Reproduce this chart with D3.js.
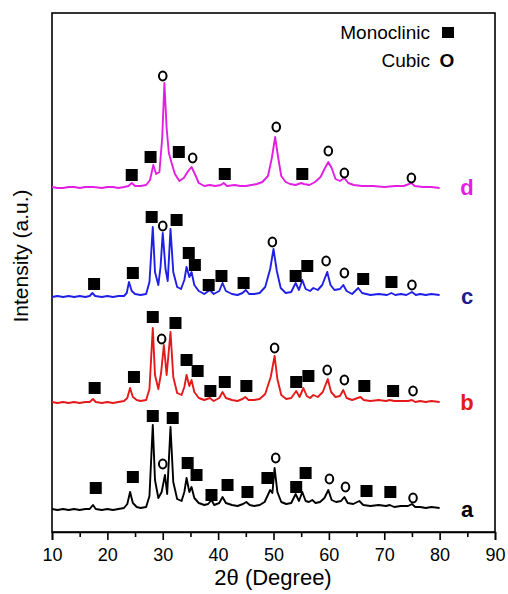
<!DOCTYPE html>
<html>
<head>
<meta charset="utf-8">
<script src="https://cdn.jsdelivr.net/npm/d3@7"></script>
<style>
  body { margin: 0; background: #fff; }
  text { font-family: Arial, "Liberation Sans", sans-serif; }
</style>
</head>
<body>
<div id="chart"></div>
<script>
var width = 508;
var height = 594;

// XRD patterns, [2theta, intensity above own baseline]
var curveA = [[10,1],[11,0],[12,1],[13,0],[14,1],[15,0],[16,1],[16.8,1],[17.4,5],[17.9,1],[19,0],[20,1],[21,0],[22,1],[23,2],[23.6,6],[24.1,18],[24.6,7],[25.3,3],[26,2],[27,3],[27.6,14],[28.2,85],[28.6,30],[29.2,12],[29.8,18],[30.4,35],[30.8,16],[31.4,83],[31.9,28],[32.6,11],[33.4,9],[33.9,18],[34.3,32],[34.8,18],[35.2,23],[35.7,12],[36.5,7],[37.5,5],[38.2,6],[38.8,10],[39.3,5],[40.2,7],[40.8,13],[41.4,7],[42.5,5],[43.5,4],[44.5,6],[45.1,8],[45.7,5],[46.5,4],[47.5,5],[48.4,8],[49.4,20],[49.8,17],[50.2,42],[50.7,18],[51.4,8],[52.3,6],[53.2,7],[54,16],[54.6,9],[55.2,18],[55.8,9],[56.4,8],[57,10],[57.6,7],[58.4,8],[59.2,12],[59.9,20],[60.5,10],[61.3,8],[62.2,9],[62.8,13],[63.4,7],[64.4,6],[65.5,9],[66.2,5],[67.5,4],[69,5],[70.3,4],[71,5],[71.8,3],[73,4],[74.3,4],[75,6],[75.6,3],[76.5,3],[77.5,2],[78.5,3],[80,2]];
var curveB = [[10,1],[11,0],[12,1],[13,0],[14,1],[15,0],[16,1],[16.8,1],[17.4,4],[17.9,1],[19,0],[20,1],[21,0],[22,1],[23,2],[23.6,5],[24.1,15],[24.6,6],[25.3,3],[26,2],[27,3],[27.6,14],[28.2,75],[28.6,28],[29.2,14],[29.7,30],[30.2,58],[30.7,28],[31.4,71],[31.9,26],[32.6,10],[33.4,8],[33.9,16],[34.3,28],[34.8,17],[35.2,23],[35.7,11],[36.5,5],[37.5,3],[38.5,5],[39.2,2],[40.2,5],[40.8,11],[41.4,5],[42.5,3],[43.5,2],[44.4,4],[44.9,6],[45.5,3],[46.5,3],[47.5,4],[48.5,9],[49.5,26],[50.2,47],[50.7,24],[51.4,8],[52.3,4],[53.2,5],[54.1,12],[54.7,6],[55.4,15],[56,7],[56.6,5],[57.2,8],[58,6],[58.9,11],[59.8,24],[60.4,11],[61.2,6],[62,7],[62.6,13],[63.2,5],[64.2,3],[65.7,6],[66.3,3],[67.5,2],[69,3],[70.3,2],[71,3],[71.8,2],[73,2],[74.3,2],[75,3],[75.6,1],[76.5,2],[77.5,1],[78.5,2],[80,1]];
var curveC = [[10,0],[11,1],[12,0],[13,1],[14,0],[15,1],[16,0],[16.8,1],[17.3,4],[17.8,1],[19,0],[20,1],[21,0],[22,1],[23,1],[23.5,4],[23.9,15],[24.4,6],[25,3],[26,2],[27,3],[27.6,15],[28.2,70],[28.6,25],[29.2,12],[29.6,30],[30,64],[30.5,28],[30.9,16],[31.4,68],[31.9,25],[32.6,10],[33.3,8],[33.9,17],[34.3,30],[34.8,20],[35.2,25],[35.7,12],[36.5,6],[37.5,3],[38.5,7],[39.2,3],[40.2,6],[40.8,14],[41.4,6],[42.5,3],[43.5,2],[44.4,4],[45,7],[45.6,3],[46.5,3],[47.5,4],[48.5,10],[49.4,28],[50,48],[50.6,26],[51.3,9],[52.2,4],[53.2,5],[54,14],[54.6,7],[55.2,17],[55.8,8],[56.6,6],[57.2,9],[58,7],[58.8,12],[59.7,25],[60.3,12],[61,7],[62,8],[62.6,12],[63.2,6],[64.2,3],[65.3,9],[66,4],[67.5,2],[69,3],[70.5,2],[71.3,4],[72,2],[73,3],[74,2],[75,5],[75.7,2],[76.5,3],[77.5,2],[78.5,3],[80,2]];
var curveD = [[10,1],[11,0],[12,0],[13,1],[14,1],[15,0],[16,1],[17.5,1],[19,0],[20,1],[21,1],[22,0],[23,1],[23.8,2],[24.4,5],[25,2],[26,2],[27,3],[27.7,8],[28.3,23],[28.8,14],[29.4,16],[29.9,50],[30.3,105],[30.7,60],[31.1,35],[31.6,25],[32.2,14],[33,7],[33.8,10],[34.6,17],[35.2,21],[35.8,14],[36.5,5],[37.5,2],[38.5,3],[39.5,2],[40.5,3],[41,5],[41.6,2],[43,3],[44,2],[45,2],[46,3],[47,4],[48,6],[49,12],[49.7,30],[50.3,51],[50.8,32],[51.4,12],[52.2,6],[53,4],[54,3],[55,5],[55.5,4],[56.5,3],[57.5,6],[58.5,11],[59.3,20],[59.9,26],[60.5,20],[61.2,9],[62,7],[62.8,10],[63.5,5],[64.5,3],[66,2],[68,2],[70,1],[72,2],[73.5,2],[74.5,4],[74.9,5],[75.5,2],[77,1],[78.5,1],[80,0]];

// baselines of the stacked patterns
var offsets = [22, 129, 235, 344];
var seriesNames = ["a", "b", "c", "d"];
var seriesColors = ["#000000", "#e41a1a", "#1f1fe6", "#e31ee3"];
var labelColors = ["#000000", "#e41a1a", "#1c1c8e", "#e31ee3"];

// phase markers, [2theta, height above own baseline]
var squaresA = [[17.9,22],[24.6,33],[28.2,94],[31.8,92],[34.5,47],[36.1,35],[38.8,15],[41.7,25],[45.3,18],[48.9,32],[54.1,23],[55.8,37],[66.8,19],[71.1,18]];
var circlesA = [[30.0,46],[50.4,52],[60.1,31],[63.0,23],[75.2,12]];
var squaresB = [[17.7,15],[24.8,26],[28.2,86],[32.3,80],[34.3,43],[36.3,32],[38.6,12],[41.2,21],[45.1,17],[54.1,21],[56.3,27],[66.4,17],[71.6,12]];
var circlesB = [[29.8,64],[50.2,55],[59.7,33],[62.8,23],[75.2,12]];
var squaresC = [[17.6,13],[24.6,24],[28.0,80],[32.5,77],[34.7,44],[35.8,32],[38.3,12],[40.6,21],[44.6,14],[54.0,21],[56.1,31],[66.2,18],[71.3,15]];
var circlesC = [[30.0,71],[49.8,55],[59.5,36],[62.8,24],[75.0,12]];
var squaresD = [[24.4,13],[27.8,31],[32.9,36],[41.2,14],[55.2,14]];
var circlesD = [[30.0,112],[35.4,30],[50.5,61],[59.9,37],[62.8,15],[74.9,10]];

var curves = [curveA, curveB, curveC, curveD];
var squareSets = [squaresA, squaresB, squaresC, squaresD];
var circleSets = [circlesA, circlesB, circlesC, circlesD];

var xTicks = [10, 20, 30, 40, 50, 60, 70, 80, 90];
var xMinor = [15, 25, 35, 45, 55, 65, 75, 85];
var legendNames = ["Monoclinic", "Cubic"];

var plotLeft = 52, plotRight = 495, plotTop = 13, plotBottom = 532;

var xScale = d3.scaleLinear().domain([10, 90]).range([plotLeft, plotRight]);
var yScale = d3.scaleLinear().domain([0, 519]).range([plotBottom, plotTop]);

var svg = d3.select("#chart")
    .append("svg")
    .attr("width", width)
    .attr("height", height);

// frame
svg.append("rect")
    .attr("x", plotLeft).attr("y", plotTop)
    .attr("width", plotRight - plotLeft).attr("height", plotBottom - plotTop)
    .attr("fill", "none").attr("stroke", "#000").attr("stroke-width", 1.6);

// x axis
var xAxis = d3.axisBottom(xScale).tickValues(xTicks).tickSize(8).tickFormat(d3.format("d"));
var gx = svg.append("g")
    .attr("transform", "translate(0," + plotBottom + ")")
    .call(xAxis);
gx.select(".domain").attr("stroke-width", 1.6);
gx.selectAll(".tick line").attr("stroke-width", 1.6);
gx.selectAll(".tick text")
    .attr("dy", null).attr("y", 29)
    .style("font-size", "18px")
    .style("font-family", "Arial, 'Liberation Sans', sans-serif");

svg.append("g")
    .attr("transform", "translate(0," + plotBottom + ")")
    .call(d3.axisBottom(xScale).tickValues(xMinor).tickSize(5).tickFormat(""))
    .call(function(g) {
      g.select(".domain").remove();
      g.selectAll(".tick line").attr("stroke-width", 1.6);
    });

svg.append("text")
    .attr("x", 273)
    .attr("y", 585)
    .attr("text-anchor", "middle")
    .style("font-size", "22px")
    .text("2\u03b8 (Degree)");

svg.append("text")
    .attr("transform", "translate(28,256) rotate(-90)")
    .attr("text-anchor", "middle")
    .style("font-size", "21px")
    .text("Intensity (a.u.)");

var line = d3.line()
    .x(function(d) { return xScale(d[0]); })
    .y(function(d) { return yScale(d[1]); });

for (var i = 0; i < curves.length; ++i) {
  var off = offsets[i];
  var pts = curves[i].map(function(p) { return [p[0], p[1] + off]; });

  svg.append("path")
      .datum(pts)
      .attr("d", line)
      .attr("fill", "none")
      .attr("stroke", seriesColors[i])
      .attr("stroke-width", 1.9)
      .attr("stroke-linejoin", "round");

  svg.selectAll(".sq" + i)
      .data(squareSets[i])
      .enter()
      .append("rect")
      .attr("class", "sq" + i)
      .attr("x", function(d) { return xScale(d[0]) - 6; })
      .attr("y", function(d) { return yScale(d[1] + off) - 6; })
      .attr("width", 12)
      .attr("height", 12)
      .attr("fill", "#000");

  svg.selectAll(".ci" + i)
      .data(circleSets[i])
      .enter()
      .append("ellipse")
      .attr("class", "ci" + i)
      .attr("cx", function(d) { return xScale(d[0]); })
      .attr("cy", function(d) { return yScale(d[1] + off); })
      .attr("rx", 3.8)
      .attr("ry", 4.4)
      .attr("fill", "#fff")
      .attr("stroke", "#000")
      .attr("stroke-width", 2);

  svg.append("text")
      .attr("x", 467)
      .attr("y", yScale(off) + 7)
      .attr("text-anchor", "middle")
      .attr("fill", labelColors[i])
      .style("font-size", "22px")
      .style("font-weight", "bold")
      .text(seriesNames[i]);
}

// legend
svg.append("text")
    .attr("x", 430).attr("y", 39)
    .attr("text-anchor", "end")
    .style("font-size", "19px")
    .text(legendNames[0]);
svg.append("rect")
    .attr("x", 442).attr("y", 27)
    .attr("width", 12).attr("height", 11)
    .attr("fill", "#000");
svg.append("text")
    .attr("x", 430).attr("y", 67)
    .attr("text-anchor", "end")
    .style("font-size", "19px")
    .text(legendNames[1]);
svg.append("text")
    .attr("x", 447).attr("y", 67)
    .attr("text-anchor", "middle")
    .style("font-size", "19px")
    .style("font-weight", "bold")
    .text("O");
</script>
</body>
</html>
